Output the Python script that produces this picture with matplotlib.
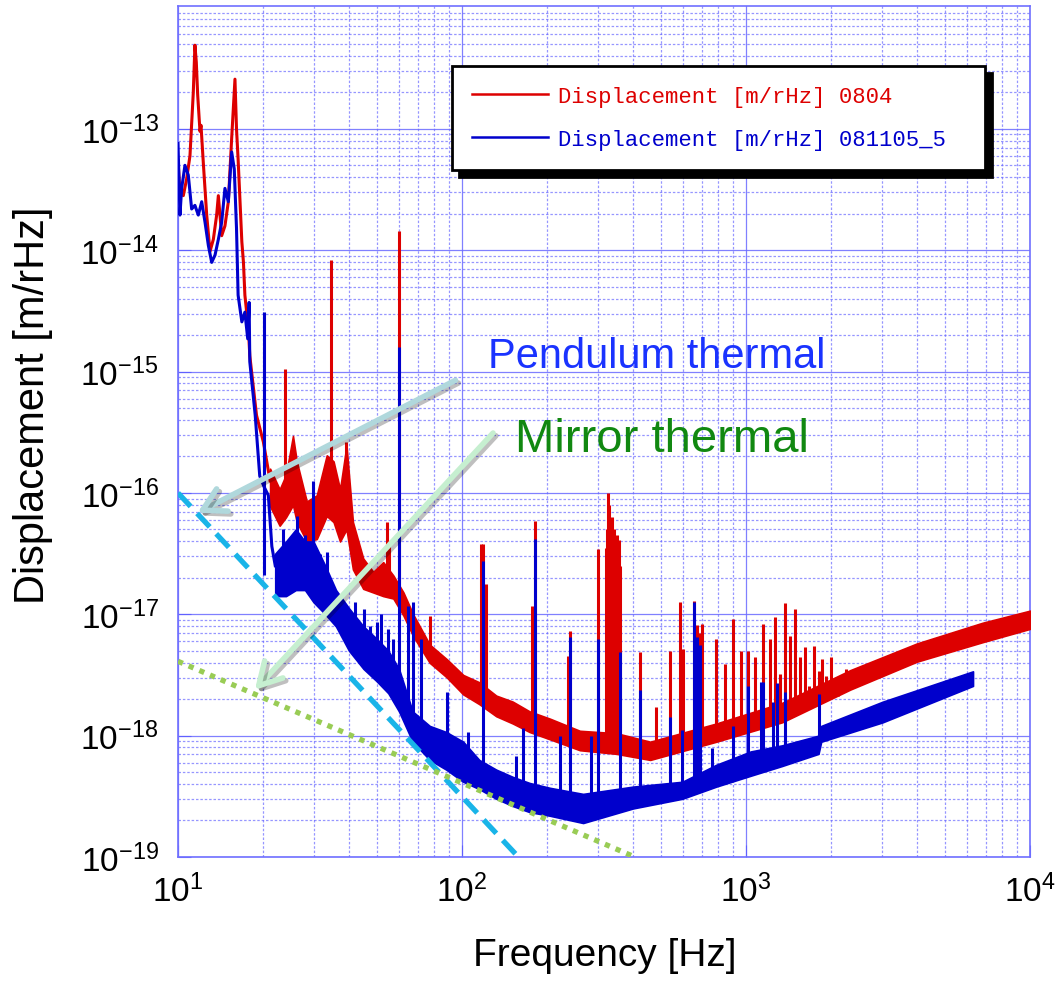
import matplotlib

matplotlib.use("Agg")

import matplotlib.patheffects as pe
import matplotlib.pyplot as plt
import numpy as np
from matplotlib.ticker import LogLocator, NullFormatter

# spectra below ~20 Hz, read as thin curves (Hz, log10 m/rHz)
red_low_f = [10.0, 10.16, 10.44, 10.73, 11.02, 11.32, 11.47, 11.6, 11.73, 11.95, 12.05, 12.27,
             12.62, 12.96, 13.32, 13.68, 13.87, 14.25, 14.63, 15.04, 15.45, 15.87, 16.07, 16.28,
             16.78, 17.0, 17.2, 17.7, 17.9, 18.9, 19.98, 21.1]
red_low_log = [-13.26, -13.52, -13.55, -13.41, -13.22, -12.70, -12.31, -12.45, -12.72, -13.02, -12.97,
               -13.27, -13.71, -14.01, -13.91, -13.71, -13.55, -13.88, -13.80, -13.60, -13.08, -12.59,
               -13.0, -13.25, -13.93, -14.10, -14.37, -14.65, -14.87, -15.36, -15.58, -15.9]

blue_low_f = [10.0, 10.16, 10.3, 10.58, 10.87, 11.17, 11.47, 11.79, 12.12, 12.45, 12.79, 13.14,
              13.5, 13.87, 14.25, 14.63, 15.04, 15.45, 15.78, 16.07, 16.28, 16.78, 17.2, 17.6,
              17.8, 17.9, 18.7, 19.4, 20.1, 20.8, 21.4, 22.0]
blue_low_log = [-13.12, -13.71, -13.49, -13.30, -13.38, -13.66, -13.63, -13.71, -13.60, -13.77, -13.96,
                -14.10, -14.04, -13.91, -13.77, -13.49, -13.60, -13.19, -13.33, -13.82, -14.37, -14.59,
                -14.51, -14.73, -14.43, -14.92, -15.36, -15.86, -15.95, -16.02, -16.44, -16.6]

# noise band above ~20 Hz: lower / upper edge (log10)
red_band_f = [21.1, 22.8, 24.0, 25.4, 26.2, 28.4, 30.8, 33.4, 35.3, 37.2, 39.2, 41.3, 44.9, 48.7,
              52.8, 57.3, 62.2, 67.3, 77, 88.4, 101, 115, 132, 151, 173, 204, 260, 350, 460, 786,
              1340, 2330, 4000, 6800, 10000]
red_band_lo = [-16.11, -16.27, -16.2, -16.1, -16.24, -16.40, -16.38, -16.19, -16.24, -16.40, -16.30,
               -16.63, -16.79, -16.82, -16.85, -16.87, -17.01, -17.18, -17.40, -17.52, -17.66, -17.74,
               -17.84, -17.90, -17.97, -18.03, -18.12, -18.15, -18.2, -18.05, -17.89, -17.62, -17.39,
               -17.23, -17.12]
red_band_hi = [-15.80, -15.97, -15.85, -15.53, -15.74, -16.07, -16.02, -15.69, -15.74, -15.97, -15.61,
               -16.24, -16.54, -16.65, -16.57, -16.68, -16.82, -17.0, -17.25, -17.37, -17.50, -17.56,
               -17.67, -17.72, -17.80, -17.86, -17.96, -17.98, -18.05, -17.9, -17.73, -17.46, -17.24,
               -17.07, -16.97]

blue_band_f = [22, 24, 26, 28, 30, 33, 36, 40, 45, 50, 55, 60, 67, 77, 88, 101, 115, 132, 151, 173,
               204, 267, 400, 597, 786, 1040, 1340, 1800, 1840, 3030, 6300]
blue_band_lo = [-16.85, -16.85, -16.8, -16.8, -16.9, -17.0, -17.1, -17.3, -17.45, -17.55, -17.65,
                -17.8, -18.05, -18.2, -18.28, -18.38, -18.44, -18.52, -18.58, -18.63, -18.66, -18.72,
                -18.6, -18.52, -18.42, -18.33, -18.25, -18.15, -18.05, -17.89, -17.59]
blue_band_hi = [-16.5, -16.4, -16.3, -16.4, -16.4, -16.6, -16.8, -16.95, -17.1, -17.2, -17.3, -17.45,
                -17.8, -17.92, -17.97, -18.05, -18.2, -18.28, -18.34, -18.39, -18.43, -18.48, -18.42,
                -18.38, -18.24, -18.13, -18.08, -18.0, -17.92, -17.72, -17.47]

# line peaks: frequency and top (log10)
red_peak_f = [23.9, 34.6, 39.2, 54.3, 55.2, 60.0, 65, 77, 117, 119, 121, 177, 181, 237, 240, 300,
              322, 324, 326, 328, 330, 332, 334, 336, 338, 341, 344, 347, 350, 353, 356, 360,
              422, 483, 538, 584, 600, 657, 672, 685,
              701, 784, 842, 899, 962, 1017, 1074, 1147, 1210, 1262, 1318, 1375, 1430, 1490, 1555,
              1615, 1670, 1730, 1810, 1850, 1920, 1990, 2100, 2250, 2390, 2650, 2840, 3080, 3300,
              3660, 3930, 4330, 4960, 5300, 5640, 5900]
red_peak_top = [-14.98, -14.08, -15.58, -16.24, -16.4, -13.84, -16.95, -17.01, -16.42, -16.42, -16.75,
                -16.93, -16.23, -17.34, -17.14, -16.46,
                -16.45, -16.3, -16.0, -16.2, -16.1, -16.3, -16.3, -16.25, -16.2, -16.35, -16.3, -16.4,
                -16.35, -16.4, -16.39, -16.6,
                -17.31, -17.76, -17.30, -16.90, -17.29, -16.89, -17.09, -17.15,
                -17.08, -17.20, -17.41, -17.04, -17.30, -17.30, -17.35, -17.08, -17.20, -17.02, -17.49,
                -16.91, -17.18, -16.96, -17.35, -17.27, -17.59, -17.26, -17.47, -17.37, -17.51, -17.35,
                -17.67, -17.45, -17.5, -17.47, -17.43, -17.43, -17.37, -17.35, -17.37, -17.28, -17.26,
                -17.23, -17.2, -17.18]

blue_peak_f = [20.1, 23.5, 26.2, 28, 29.9, 31.5, 33.4, 37.5, 40.3, 42, 45, 47.5, 50, 52, 55.1, 57,
               60, 64.5, 67.3, 72, 88.3, 105, 119, 155, 164, 181, 222, 240, 284, 300, 360, 422, 538,
               593, 657, 672, 690, 760, 899, 1017, 1130, 1147, 1240, 1290, 1370, 1810]
blue_peak_top = [-14.51, -16.3, -16.19, -16.35, -15.90, -16.5, -16.49, -16.9, -17.01, -16.9, -16.96,
                 -17.1, -17.06, -17.0, -17.12, -17.2, -14.80, -16.93, -16.90, -17.2, -17.64, -17.97,
                 -16.56, -18.17, -17.94, -16.38, -18.0, -17.19, -18.0, -17.20, -17.31, -17.62, -17.85,
                 -17.95, -16.90, -17.19, -17.25, -18.1, -17.92, -17.59, -17.56, -17.56, -17.72, -17.57,
                 -17.64, -17.66]

# thermal noise estimates (end points of the straight lines)
pend_f = [10, 158]
pend_v = [1e-16, 1e-19]
mirror_f = [10, 406]
mirror_v = [4.1e-18, 1e-19]

labels = ["Displacement [m/rHz] 0804", "Displacement [m/rHz] 081105_5"]
y_ticks = [1e-19, 1e-18, 1e-17, 1e-16, 1e-15, 1e-14, 1e-13]

RED = "#dd0000"
BLUE = "#0000cc"

plt.rcParams["font.family"] = ["Liberation Sans Narrow", "Liberation Sans", "DejaVu Sans"]
plt.rcParams["mathtext.fontset"] = "custom"
plt.rcParams["mathtext.rm"] = "Liberation Sans Narrow"
plt.rcParams["mathtext.it"] = "Liberation Sans Narrow:italic"
plt.rcParams["mathtext.bf"] = "Liberation Sans Narrow:bold"


def draw_trace(ax, color, low_f, low_log, band_f, band_lo, band_hi, peak_f, peak_top, label):
    ax.plot(low_f, 10.0 ** np.array(low_log), color=color, lw=2.2, label=label, zorder=3)
    lo = np.array(band_lo)
    hi = np.array(band_hi)
    ax.fill_between(band_f, 10.0 ** lo, 10.0 ** hi, facecolor=color, edgecolor=color, lw=1.2, zorder=3)
    mid = (lo + hi) / 2
    base = np.interp(np.log10(peak_f), np.log10(band_f), mid)
    ax.vlines(peak_f, 10.0 ** base, 10.0 ** np.array(peak_top), color=color, lw=2.2, zorder=3)


fig = plt.figure(figsize=(10.55, 9.87), dpi=100)
ax = fig.add_axes([178 / 1055, 129 / 987, 852 / 1055, 851 / 987])
ax.set_xscale("log")
ax.set_yscale("log")
ax.set_xlim(10, 1e4)
ax.set_ylim(1e-19, 1.03e-12)

draw_trace(ax, RED, red_low_f, red_low_log, red_band_f, red_band_lo, red_band_hi,
           red_peak_f, red_peak_top, labels[0])
draw_trace(ax, BLUE, blue_low_f, blue_low_log, blue_band_f, blue_band_lo, blue_band_hi,
           blue_peak_f, blue_peak_top, labels[1])

ax.plot(pend_f, pend_v, color="#19b4e8", lw=3.8, ls=(0, (3.5, 1.8)), zorder=4)
ax.plot(mirror_f, mirror_v, color="#99cc55", lw=3.8, ls=(0, (1, 1.2)), zorder=4)

# grid and ticks
ax.set_yticks(y_ticks)
ax.yaxis.set_minor_locator(LogLocator(base=10, subs=np.arange(2, 10), numticks=50))
ax.xaxis.set_minor_locator(LogLocator(base=10, subs=np.arange(2, 10), numticks=50))
ax.xaxis.set_minor_formatter(NullFormatter())
ax.yaxis.set_minor_formatter(NullFormatter())
ax.grid(True, which="major", color="#6a6aff", lw=0.9, alpha=0.85)
ax.grid(True, which="minor", color="#6a6aff", lw=0.9, ls=(0, (2, 1.5)), alpha=0.7)
ax.set_axisbelow(True)
ax.tick_params(which="major", direction="in", length=9, color="#6060ff", labelsize=24)
ax.tick_params(axis="x", pad=12)
ax.tick_params(axis="y", pad=14)
ax.tick_params(which="minor", length=0)
for sp in ax.spines.values():
    sp.set_color("#7070ff")
    sp.set_linewidth(1.2)

ax.set_xlabel("Frequency [Hz]", fontsize=28, family="Liberation Sans")
ax.set_ylabel("Displacement [m/rHz]", fontsize=30, family="Liberation Sans")
ax.xaxis.set_label_coords(0.501, -0.094)
ax.yaxis.set_label_coords(-0.147, 0.532)

leg = ax.legend(loc="upper left", bbox_to_anchor=(0.3216, 0.9295, 0.626, 0.0), mode="expand",
                prop={"family": "Liberation Mono", "size": 16}, labelcolor="linecolor",
                handlelength=3.4, handletextpad=0.45, labelspacing=1.0, borderpad=0.9,
                fancybox=False, edgecolor="black", framealpha=1, borderaxespad=0,
                shadow={"ox": 5, "oy": -5, "color": "black", "alpha": 1})
leg.get_frame().set_linewidth(2)
for line in leg.get_lines():
    line.set_linewidth(1.8)

shadow = [pe.SimpleLineShadow(offset=(2, -2), alpha=0.25), pe.Normal()]
ax.annotate("", xy=(0.020, 0.403), xytext=(0.3286, 0.5617), xycoords="axes fraction",
            arrowprops=dict(arrowstyle="->,head_length=0.8,head_width=0.45", color="#b0d8dc",
                            lw=4, mutation_scale=20, path_effects=shadow), zorder=5)
ax.annotate("", xy=(0.088, 0.194), xytext=(0.372, 0.5006), xycoords="axes fraction",
            arrowprops=dict(arrowstyle="->,head_length=0.8,head_width=0.45", color="#c6efd0",
                            lw=4, mutation_scale=20, path_effects=shadow), zorder=5)

ax.text(0.364, 0.5758, "Pendulum thermal", transform=ax.transAxes, fontsize=30,
        color="#1a33ff", family="Liberation Sans", va="baseline", zorder=6)
ax.text(0.3955, 0.477, "Mirror thermal", transform=ax.transAxes, fontsize=34,
        color="#118811", family="Liberation Sans", va="baseline", zorder=6)

fig.savefig("out.png", dpi=100, facecolor="white")
